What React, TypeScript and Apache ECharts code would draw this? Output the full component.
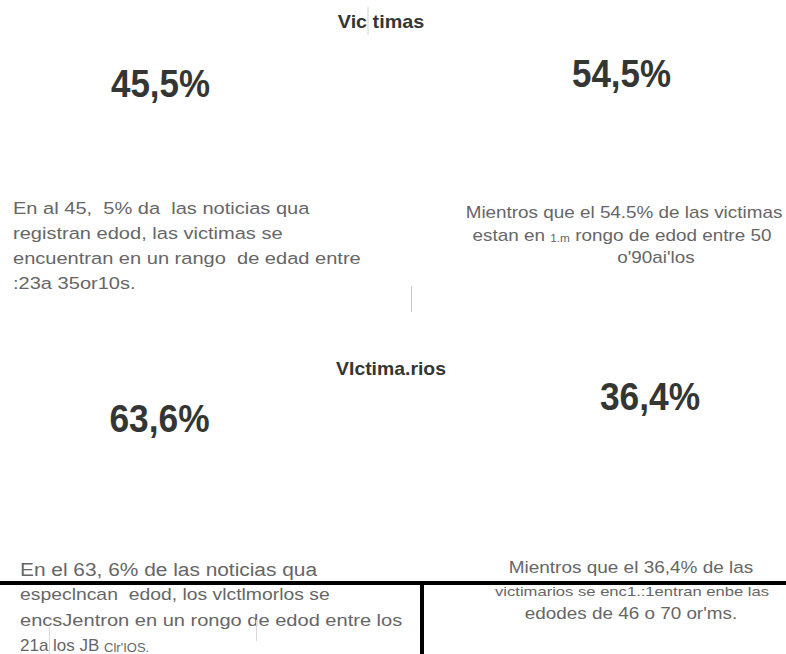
import React, { useEffect, useRef } from "react";
import * as echarts from "echarts";

// ---- data ----
const sectionTitles = ["Vic timas", "VIctima.rios"];
const victimShares = [45.5, 54.5];
const perpetratorShares = [63.6, 36.4];
const victimLeftLines = [
  "En al 45,  5% da  las noticias qua",
  "registran edod, las victimas se",
  "encuentran en un rango  de edad entre",
  ":23a 35or10s.",
];
const victimRightLines = [
  "Mientros que el 54.5% de las victimas",
  "estan en {s|1.m} rongo de edod entre 50",
  "o'90ai'los",
];
const perpLeftLines = [
  "En el 63, 6% de las noticias qua",
  "especlncan  edod, los vlctlmorlos se",
  "encsJentron en un rongo de edod entre los",
  "21a los JB {m|Clr'IOS.}",
];
const perpRightLines = [
  "Mientros que el 36,4% de las",
  "victimarios se enc1.:1entran enbe las",
  "edodes de 46 o 70 or'ms.",
];

const fmt = (v: number) => v.toFixed(1).replace(".", ",") + "%";

const SANS = "'Liberation Sans', Arial, sans-serif";
const DARK = "#343633";
const GRAY = "#666666";

export default function App() {
  const ref = useRef<HTMLDivElement>(null);
  useEffect(() => {
    if (!ref.current) return;
    const chart = echarts.init(ref.current, null, { renderer: "svg" });

    const elements: any[] = [];
    const txt = (
      text: string,
      x: number,
      y: number,
      size: number,
      opts: any = {}
    ) => ({
      type: "text",
      x,
      y,
      scaleX: opts.sx || 1,
      style: {
        text,
        x: 0,
        y: 0,
        fontSize: size,
        fontFamily: SANS,
        fontWeight: opts.weight || "normal",
        fill: opts.color || GRAY,
        align: opts.align || "left",
        verticalAlign: "middle",
        rich: {
          s: { fontSize: Math.round(size * 0.62), fill: opts.color || GRAY, fontFamily: SANS, verticalAlign: "bottom" },
          m: { fontSize: Math.round(size * 0.78), fill: opts.color || GRAY, fontFamily: SANS, verticalAlign: "bottom" },
        },
      },
    });

    // titles
    elements.push(txt(sectionTitles[0], 381, 21, 19, { weight: "bold", color: DARK, align: "center", sx: 1.04 }));
    elements.push(txt(sectionTitles[1], 391, 369, 19, { weight: "bold", color: DARK, align: "center", sx: 1.02 }));

    // big percentages
    const pctPos = [
      [160.5, 84],
      [621.5, 74],
    ];
    victimShares.forEach((v, i) =>
      elements.push(txt(fmt(v), pctPos[i][0], pctPos[i][1], 38, { weight: "bold", color: DARK, align: "center", sx: 0.92 }))
    );
    const pctPos2 = [
      [159.5, 419],
      [650, 397],
    ];
    perpetratorShares.forEach((v, i) =>
      elements.push(txt(fmt(v), pctPos2[i][0], pctPos2[i][1], 38, { weight: "bold", color: DARK, align: "center", sx: 0.93 }))
    );

    // paragraphs
    victimLeftLines.forEach((l, i) => elements.push(txt(l, 13, 208 + i * 25, 17, { sx: 1.18 })));
    const vrX = [624, 622, 656];
    victimRightLines.forEach((l, i) => elements.push(txt(l, vrX[i], 213 + i * 22.5, 16, { align: "center", sx: 1.18 })));
    const pl2Sizes = [18, 16, 17, 17];
    const pl2Sx = [1.16, 1.21, 1.18, 1.0];
    perpLeftLines.forEach((l, i) => elements.push(txt(l, 20, 570 + i * 25, pl2Sizes[i], { sx: pl2Sx[i] })));
    const pr2Sizes = [16.5, 13.5, 16];
    const pr2Sx = [1.15, 1.23, 1.18];
    const pr2X = [631, 632, 631];
    const pr2Y = [567, 591, 614];
    perpRightLines.forEach((l, i) => elements.push(txt(l, pr2X[i], pr2Y[i], pr2Sizes[i], { align: "center", sx: pr2Sx[i] })));

    // decoration lines
    const line = (x1: number, y1: number, x2: number, y2: number, w: number, c: string) => ({
      type: "line",
      shape: { x1, y1, x2, y2 },
      style: { stroke: c, lineWidth: w },
      z: 10,
    });
    elements.push(line(368, 7, 368, 35, 1, "#cfd4d0"));
    elements.push(line(411.5, 286, 411.5, 312, 1, "#c8c8c8"));
    elements.push(line(0, 583, 786, 583, 4, "#000000"));
    elements.push(line(422, 583, 422, 654, 4, "#000000"));
    elements.push(line(49.5, 627, 49.5, 654, 1, "#d8d8d8"));
    elements.push(line(256.5, 620, 256.5, 641, 1, "#d8d8d8"));

    chart.setOption({
      animation: false,
      backgroundColor: "#ffffff",
      graphic: { elements },
    });
    return () => chart.dispose();
  }, []);
  return (
    <div
      ref={ref}
      style={{ position: "fixed", left: 0, top: 0, width: 786, height: 654 }}
    />
  );
}
